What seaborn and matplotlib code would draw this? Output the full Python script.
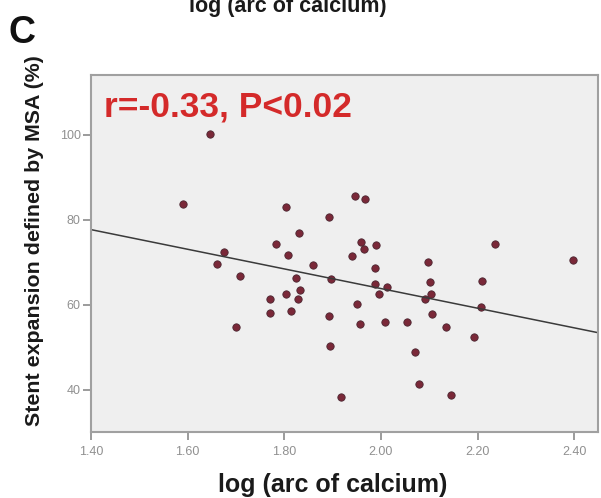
import matplotlib
matplotlib.use("Agg")
import matplotlib.pyplot as plt
import seaborn as sns
import numpy as np
import pandas as pd

# Data
log_arc = [1.646, 1.591, 1.803, 1.892, 1.946, 1.967, 1.830, 1.782, 1.807, 1.675,
           1.660, 1.859, 1.939, 1.958, 1.965, 1.989, 2.098, 2.398, 2.236, 1.988,
           1.896, 1.825, 1.708, 1.832, 1.803, 1.829, 1.770, 1.770, 1.814, 1.987,
           2.013, 1.996, 2.101, 2.104, 2.091, 2.210, 2.207, 1.951, 1.893, 1.956,
           2.009, 2.054, 2.105, 2.134, 2.192, 1.894, 2.070, 2.079, 1.918, 2.144,
           1.701]
expansion = [100.2, 83.7, 83.1, 80.7, 85.7, 85.0, 76.9, 74.4, 71.7, 72.4,
             69.7, 69.4, 71.6, 74.7, 73.1, 74.1, 70.2, 70.6, 74.3, 68.6,
             66.2, 66.3, 66.9, 63.5, 62.5, 61.3, 61.3, 58.1, 58.5, 64.9,
             64.2, 62.5, 65.3, 62.6, 61.4, 65.6, 59.4, 60.3, 57.4, 55.5,
             55.9, 56.1, 57.9, 54.9, 52.5, 50.3, 48.9, 41.3, 38.4, 38.9,
             54.8]
x_ticks = [1.40, 1.60, 1.80, 2.00, 2.20, 2.40]
x_tick_labels = ["1.40", "1.60", "1.80", "2.00", "2.20", "2.40"]
y_ticks = [40, 60, 80, 100]
annotation = "r=-0.33, P<0.02"

df = pd.DataFrame({"log_arc": log_arc, "expansion": expansion})

sns.set_style("white")
plt.rcParams['font.family'] = ['Liberation Sans', 'DejaVu Sans']

fig = plt.figure(figsize=(6.01, 4.98), dpi=100)
ax = fig.add_axes([91/601, 1 - 432/498, (598-91)/601, (432-75)/498])
ax.set_facecolor("#efefef")
ax.set_xlim(1.40, 2.449)
ax.set_ylim(30.1, 114.1)

sns.regplot(data=df, x="log_arc", y="expansion", ax=ax, ci=None, truncate=False,
            scatter_kws=dict(s=28, color="#7a2838", edgecolor="#4a2530", linewidths=0.6, alpha=1),
            line_kws=dict(color="#3a3a3a", lw=1.1))
ax.set_xlim(1.40, 2.449)
ax.set_ylim(30.1, 114.1)

ax.set_xticks(x_ticks)
ax.set_xticklabels(x_tick_labels)
ax.set_yticks(y_ticks)
ax.tick_params(axis="both", direction="out", length=6, width=1.2, color="#8a8a8a",
               labelsize=9, labelcolor="#909090")
ax.tick_params(axis="x", pad=4)
ax.tick_params(axis="y", pad=1.5)
ax.tick_params(left=True, bottom=True)
for s in ax.spines.values():
    s.set_color("#a0a0a0")
    s.set_linewidth(1.5)

ax.set_xlabel("")
ax.set_ylabel("")
fig.text(333/601, 1 - 492/498, "log (arc of calcium)", ha="center", va="baseline",
         fontsize=18, fontweight="bold", color="#1a1a1a")
fig.text(35/601, 1 - 241/498, "Stent expansion defined by MSA (%)", ha="center", va="center",
         rotation=90, fontsize=15.4, fontweight="bold", color="#1a1a1a")
fig.text(288/601, 1 - 12/498, "log (arc of calcium)", ha="center", va="baseline",
         fontsize=15.5, fontweight="bold", color="#1a1a1a")
fig.text(9/601, 1 - 43/498, "C", ha="left", va="baseline",
         fontsize=27, fontweight="bold", color="#111111")
fig.text(104/601, 1 - 116.5/498, annotation, ha="left", va="baseline",
         fontsize=25.5, fontweight="bold", color="#d42a2a")

fig.savefig("out.png", dpi=100)
